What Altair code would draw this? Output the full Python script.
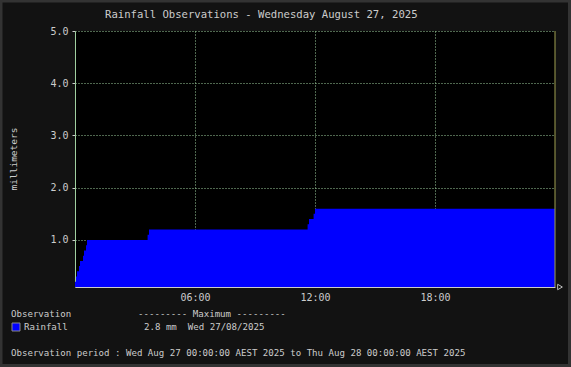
import altair as alt
import pandas as pd

# Rainfall cumulative (mm) by hour of day
hours = [0, 0.05, 0.1, 0.2, 0.25, 0.4, 0.45, 0.55, 0.6, 3.63, 3.7, 11.63, 11.7, 11.93, 12.0, 24]
rain = [0.2, 0.3, 0.4, 0.5, 0.6, 0.7, 0.8, 0.9, 1.0, 1.1, 1.2, 1.3, 1.4, 1.5, 1.6, 1.6]
x_ticks = [6, 12, 18]
y_ticks = [1, 2, 3, 4, 5]

title_text = "Rainfall Observations - Wednesday August 27, 2025"
y_title = "millimeters"
legend_head = "Observation"
max_head = "--------- Maximum ---------"
series_name = "Rainfall"
max_text = "2.8 mm\u00a0 Wed 27/08/2025"
period_text = "Observation period : Wed Aug 27 00:00:00 AEST 2025 to Thu Aug 28 00:00:00 AEST 2025"

df = pd.DataFrame({"hour": hours, "mm": rain})

FONT = "DejaVu Sans Mono"
TXT = "#cccccc"
GRID = "#9fcf9f"

W, H = 480, 256

area = alt.Chart(df).mark_area(color="#0000ff", interpolate="step-after", clip=True).encode(
    x=alt.X("hour:Q", scale=alt.Scale(domain=[0, 24], nice=False, zero=False),
            axis=alt.Axis(values=x_ticks, title=None, grid=True, gridColor=GRID, gridDash=[1, 2],
                          gridOpacity=1, domainColor="#cccccc", ticks=False, labelColor=TXT,
                          labelFont=FONT, labelFontSize=10, labelPadding=5,
                          labelExpr="(datum.value < 10 ? '0' : '') + datum.value + ':00'")),
    y=alt.Y("mm:Q", scale=alt.Scale(domain=[0.1, 5], nice=False, zero=False),
            axis=alt.Axis(values=y_ticks, format=".1f", title=None, grid=True, gridColor=GRID,
                          gridDash=[1, 2], gridOpacity=1, domainColor=GRID, tickColor="#cccccc",
                          tickSize=3, labelColor=TXT, labelFont=FONT, labelFontSize=10,
                          labelPadding=4)),
    y2=alt.datum(0),
)

one = alt.Data(values=[{}])

right_rule = alt.Chart(one).mark_rule(color="#a0a050", strokeWidth=1).encode(
    x=alt.value(W), y=alt.value(0), y2=alt.value(H))

arrow = alt.Chart(one).mark_point(shape="triangle-right", filled=False, color="#ffffff",
                                  size=30, strokeWidth=1).encode(
    x=alt.value(W + 5), y=alt.value(H))


def txt(s, x, y, size=9.1, align="left", angle=0):
    kw = dict(text=s, font=FONT, fontSize=size, color=TXT, align=align, baseline="middle")
    if angle:
        kw["angle"] = angle
    return alt.Chart(one).mark_text(**kw).encode(x=alt.value(x), y=alt.value(y))


texts = [
    txt(title_text, 30, -16, size=10.6),
    txt(y_title, -61, 128, size=9.5, align="center", angle=270),
    txt(legend_head, -64, 283),
    txt(max_head, 63, 283),
    txt(series_name, -51, 296),
    txt(max_text, 69, 296),
    txt(period_text, -64, 322),
]

swatch = alt.Chart(one).mark_rect(fill="#0000ff", stroke="#888888", strokeWidth=1).encode(
    x=alt.value(-63), x2=alt.value(-55), y=alt.value(292), y2=alt.value(300))

border = alt.Chart(one).mark_rect(fillOpacity=0, stroke="#333333", strokeWidth=3).encode(
    x=alt.value(-75 + 1), x2=alt.value(W + 16 - 1.5), y=alt.value(-31 + 1), y2=alt.value(H + 80 - 1.5))

chart = alt.layer(area, right_rule, arrow, swatch, *texts, border).properties(
    width=W, height=H,
    background="#121212",
    padding={"left": 75, "top": 31, "right": 16, "bottom": 80},
    autosize=alt.AutoSizeParams(type="none"),
).configure_view(fill="#000000", stroke=None)

chart.save("out.html", embed_options={"renderer": "svg", "actions": False})
